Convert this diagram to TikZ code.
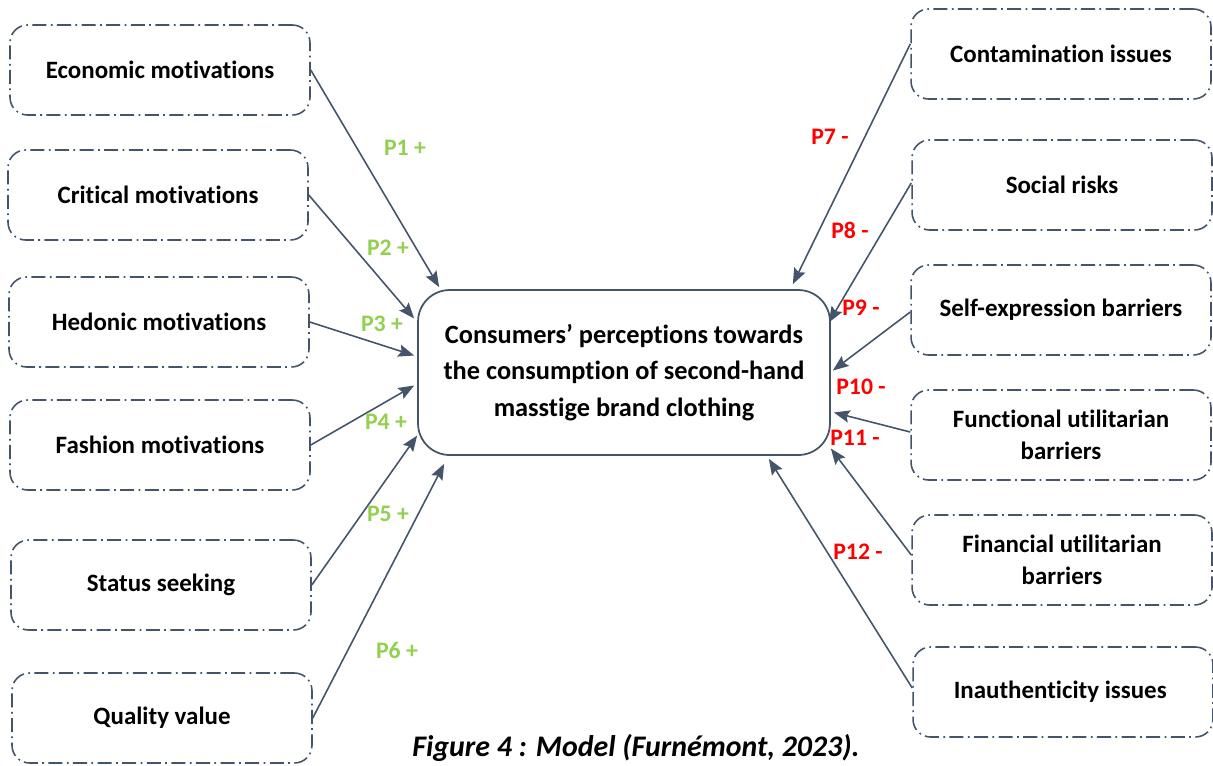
\documentclass[tikz,border=0pt]{standalone}
\usepackage{fontspec}
\setmainfont{Carlito}[Ligatures=NoCommon]
\usepackage{xcolor}
\usepackage{tikz}
\usetikzlibrary{arrows.meta}
\definecolor{slate}{HTML}{44546A}
\definecolor{pgreen}{HTML}{92D050}

\begin{document}
\begin{tikzpicture}[x=0.02cm, y=-0.02cm,
		factor/.style={draw=slate, line width=0.9pt, rounded corners=10pt,
			dash pattern=on 8pt off 2.5pt on 1pt off 2.5pt,
			minimum width=6cm, minimum height=1.8cm, align=center,
			font=\fontsize{14.2}{18}\selectfont\bfseries},
		core/.style={draw=slate, line width=1pt, rounded corners=18pt,
			minimum width=8.24cm, minimum height=3.3cm, align=center,
			font=\fontsize{15}{20.7}\selectfont\bfseries},
		link/.style={draw=slate, line width=0.9pt, -{Stealth[length=9pt,width=7pt,inset=1.5pt]}},
		plus/.style={text=pgreen, font=\fontsize{13.5}{16}\selectfont\bfseries},
		minus/.style={text=red, font=\fontsize{13.5}{16}\selectfont\bfseries}
	]
		\useasboundingbox (0,0) rectangle (1213,765);
		
		\node[core] (cpt) at (624,372.5) {Consumers’ perceptions towards\\the consumption of second-hand\\masstige brand clothing};
		
		\foreach \name/\x/\y/\txt in {
			eco/160/70/Economic motivations,
			crit/158/195/Critical motivations,
			hed/159/322/Hedonic motivations,
			fash/160/445/Fashion motivations,
			stat/161/585/Status seeking,
			qual/162/718/Quality value,
			cont/1061/54/Contamination issues,
			soc/1062/185/Social risks,
			self/1061/310/Self-expression barriers,
			func/1061/435/{Functional utilitarian\\barriers},
			fin/1062/560/{Financial utilitarian\\barriers},
			inau/1063/692/Inauthenticity issues
		}{
			\node[factor] (\name) at (\x,\y) {\txt};
		}
		
		\foreach \src/\anc/\dx/\dy in {
			eco/north west/22/-2,
			crit/west/-3/-54,
			hed/west/-3/-17,
			fash/west/-3/13,
			stat/west/0/63,
			qual/south west/27/8
		}{
			\draw[link] (\src.east) -- ([shift={(\dx,\dy)}]cpt.\anc);
		}
		
		\foreach \src/\sy/\anc/\dx/\dy in {
			cont/-10/north east/-38/-5,
			soc/-2/east/-2/-50,
			self/2/east/2/-2,
			func/-3/east/3/40,
			fin/-5/east/0/76,
			inau/-4/south east/-62/3
		}{
			\draw[link] ([shift={(0,\sy)}]\src.west) -- ([shift={(\dx,\dy)}]cpt.\anc);
		}
		
		\foreach \name/\x/\y/\txt in {
			p1/405/148/P1 +,
			p2/388/248/P2 +,
			p3/382/324/P3 +,
			p4/386/422/P4 +,
			p5/388/514/P5 +,
			p6/397/650/P6 +
		}{
			\node[plus] (\name) at (\x,\y) {\txt};
		}
		
		\foreach \name/\x/\y/\txt in {
			p7/830/137/P7 -,
			p8/850/230/P8 -,
			p9/861/308/P9 -,
			p10/861/387/P10 -,
			p11/855/438/P11 -,
			p12/858/552/P12 -
		}{
			\node[minus] (\name) at (\x,\y) {\txt};
		}
		
		\node[anchor=base, font=\fontsize{17}{20}\selectfont\bfseries\itshape] (cap) at (636,756) {Figure 4 : Model (Furnémont, 2023).};
	\end{tikzpicture}
\end{document}
